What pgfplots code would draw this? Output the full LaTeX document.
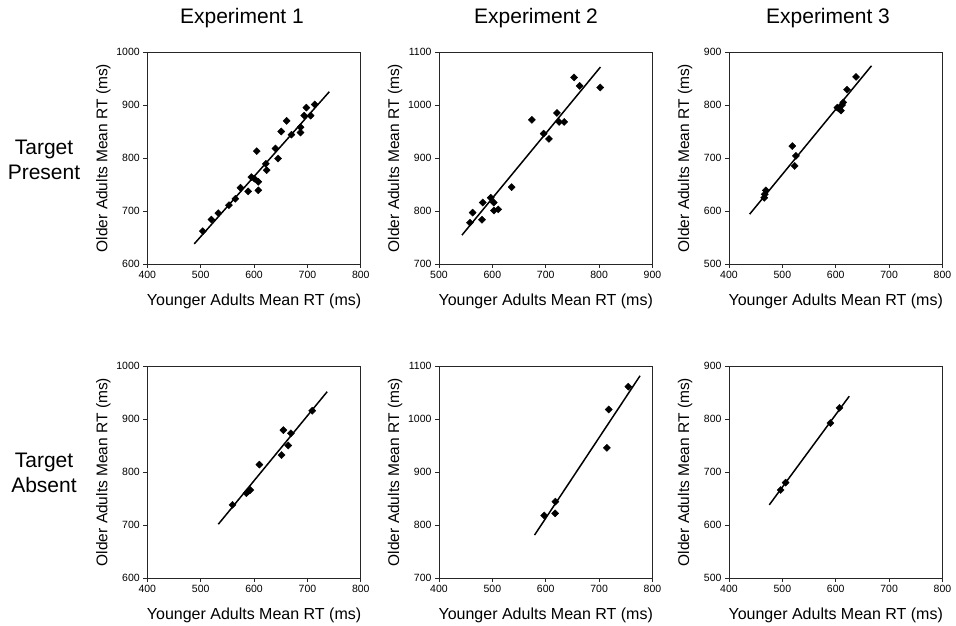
\documentclass[border=0pt]{standalone}
\usepackage{pgfplots}
\pgfplotsset{compat=1.18}
\usepackage{fontspec}
\setmainfont{Liberation Sans}
\begin{document}
\begin{tikzpicture}[x=1pt,y=1pt]
\useasboundingbox (0,0) rectangle (956,626);
\pgfplotsset{
  panel/.style={
    scale only axis, width=213.5pt, height=212pt,
    anchor=south west,
    axis line style={line width=0.9pt, black!85},
    tick align=outside, xtick pos=bottom, ytick pos=left,
    major tick length=4pt,
    tick style={black!85, line width=0.7pt},
    tick label style={font=\fontsize{10.5}{12}\selectfont},
    /pgf/number format/assume math mode=true,
    /pgf/number format/1000 sep={},
    xlabel={Younger Adults Mean RT (ms)},
    ylabel={Older Adults Mean RT (ms)},
    xlabel style={font=\fontsize{16}{18}\selectfont, at={(axis description cs:0.5,0)}, anchor=center, yshift=-37pt},
    ylabel style={font=\fontsize{15.5}{18}\selectfont, at={(axis description cs:-0.206,0.5)}, anchor=center},
    xtick distance=100, ytick distance=100,
    clip=false,
  },
  pts/.style={only marks, mark=square*, mark size=2.5pt, mark options={rotate=45, fill=black, draw=black}, black},
  fit/.style={no marks, black, line width=1.5pt},
}
% Row 1
\begin{axis}[panel, at={(147.3pt,362pt)}, xmin=400, xmax=800, ymin=600, ymax=1000]
\addplot[fit] coordinates {(488,638) (741,925)};
\addplot[pts] coordinates {
(504,662) (520,684) (533,696) (553,711) (565,723) (574.5,744) (589,737)
(595,764) (600.6,761) (605,813) (608,755) (608,739) (622,789) (623.6,777)
(640,818) (645,799) (651,850) (661,870) (670,844) (687,858) (687,848)
(698,895) (694,880) (706,880) (713.7,901)};
\end{axis}
\begin{axis}[panel, at={(439pt,362pt)}, xmin=500, xmax=900, ymin=700, ymax=1100]
\addplot[fit] coordinates {(543,754.5) (802.5,1071.6)};
\addplot[pts] coordinates {
(558,778) (563,797) (580.5,783.5) (582,816) (597,825) (602.5,816) (603,801)
(611,803) (636,845) (674,972) (696,946) (706,936) (721,985) (725,968)
(734.6,968) (753,1052) (763.5,1036) (802,1033)};
\end{axis}
\begin{axis}[panel, at={(729pt,362pt)}, xmin=400, xmax=800, ymin=500, ymax=900]
\addplot[fit] coordinates {(438.7,594) (667,874)};
\addplot[pts] coordinates {
(466,625) (467,631.5) (469,639) (518.6,722.5) (525.4,704) (523,685)
(603,795) (606.5,793) (609.7,789.5) (614,805) (612,800) (621,829) (638,853)};
\end{axis}
% Row 2
\begin{axis}[panel, at={(147.3pt,48pt)}, xmin=400, xmax=800, ymin=600, ymax=1000]
\addplot[fit] coordinates {(533,701.4) (737,951.5)};
\addplot[pts] coordinates {
(559.6,738) (585.7,760) (589.4,764) (593,766) (610,814) (651.5,832)
(655,879) (664,850) (669,873) (709,915.6)};
\end{axis}
\begin{axis}[panel, at={(439pt,48pt)}, xmin=400, xmax=800, ymin=700, ymax=1100]
\addplot[fit] coordinates {(579,781) (776.7,1081.6)};
\addplot[pts] coordinates {
(597,818) (617.6,822) (618,844) (714.5,945.6) (718,1018) (754.7,1061)};
\end{axis}
\begin{axis}[panel, at={(729pt,48pt)}, xmin=400, xmax=800, ymin=500, ymax=900]
\addplot[fit] coordinates {(475.5,638) (625.3,843)};
\addplot[pts] coordinates {
(496.7,666) (506,680) (590,792.4) (607,821)};
\end{axis}
% Titles and row labels
\node[font=\fontsize{21}{24}\selectfont] at (242,608) {Experiment 1};
\node[font=\fontsize{21}{24}\selectfont] at (536,608) {Experiment 2};
\node[font=\fontsize{21}{24}\selectfont] at (828,608) {Experiment 3};
\node[font=\fontsize{21}{25}\selectfont, align=center] at (44,466.5) {Target\\Present};
\node[font=\fontsize{21}{25}\selectfont, align=center] at (44,153) {Target\\Absent};
\end{tikzpicture}
\end{document}
